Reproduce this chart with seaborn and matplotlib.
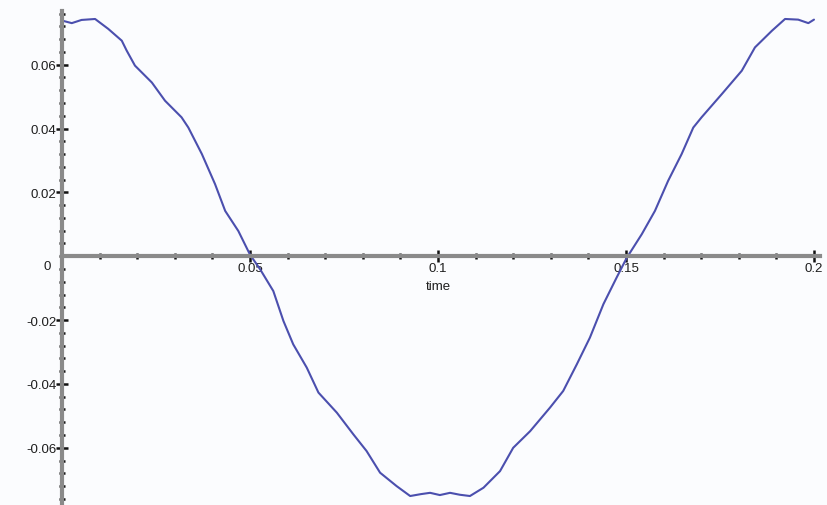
import matplotlib
matplotlib.use("Agg")
import matplotlib.pyplot as plt
import seaborn as sns
import pandas as pd
from matplotlib.ticker import MultipleLocator

# data
time_vals = [0.0, 0.0026, 0.0052, 0.0088, 0.0123, 0.0159, 0.0172, 0.0194, 0.0239, 0.0274,
             0.0318, 0.0336, 0.0372, 0.0407, 0.0434, 0.0469, 0.0500, 0.0527, 0.0562, 0.0589,
             0.0615, 0.0651, 0.0682, 0.0731, 0.0775, 0.0810, 0.0846, 0.0890, 0.0926, 0.0955,
             0.0979, 0.1005, 0.1032, 0.1058, 0.1085, 0.1121, 0.1165, 0.1200, 0.1245, 0.1298,
             0.1333, 0.1369, 0.1404, 0.1440, 0.1475, 0.1502, 0.1542, 0.1577, 0.1612, 0.1648,
             0.1679, 0.1701, 0.1755, 0.1808, 0.1843, 0.1888, 0.1923, 0.1958, 0.1985, 0.2000]
signal_vals = [0.0738, 0.0730, 0.0740, 0.0743, 0.0712, 0.0675, 0.0644, 0.0597, 0.0544, 0.0487,
               0.0435, 0.0403, 0.0320, 0.0226, 0.0142, 0.0079, 0.0005, -0.0041, -0.0109, -0.0203,
               -0.0276, -0.0349, -0.0427, -0.0490, -0.0558, -0.0610, -0.0678, -0.0720, -0.0751, -0.0745,
               -0.0741, -0.0748, -0.0741, -0.0747, -0.0751, -0.0725, -0.0673, -0.0600, -0.0548, -0.0474,
               -0.0422, -0.0339, -0.0255, -0.0150, -0.0067, -0.0005, 0.0069, 0.0142, 0.0236, 0.0320,
               0.0403, 0.0435, 0.0508, 0.0581, 0.0654, 0.0706, 0.0743, 0.0741, 0.0730, 0.0741]
x_ticks = [0.05, 0.1, 0.15, 0.2]
x_tick_labels = ["0.05", "0.1", "0.15", "0.2"]
y_ticks = [-0.06, -0.04, -0.02, 0.02, 0.04, 0.06]
y_tick_labels = ["-0.06", "-0.04", "-0.02", "0.02", "0.04", "0.06"]
x_label = "time"

sns.set_theme(style="white")
plt.rcParams["font.family"] = ["Liberation Sans", "DejaVu Sans"]

bg = "#fbfcfe"
txt = "#1e1e1e"
fig = plt.figure(figsize=(8.28, 5.06), dpi=100, facecolor=bg)
ax = fig.add_axes([62 / 828, 1 / 506, 758 / 828, 493 / 506])
ax.set_facecolor(bg)

df = pd.DataFrame({"time": time_vals, "signal": signal_vals})
sns.lineplot(data=df, x="time", y="signal", ax=ax, color="#4b4fae", linewidth=1.5,
             estimator=None, sort=False)

ax.set_xlim(0, 0.2016)
ax.set_ylim(-0.0776, 0.0768)

for s in ["top", "right"]:
    ax.spines[s].set_visible(False)
for s in ["left", "bottom"]:
    ax.spines[s].set_position(("data", 0))
    ax.spines[s].set_color("#8a8a8a")
    ax.spines[s].set_linewidth(3.0)

ax.set_xticks(x_ticks)
ax.set_xticklabels(x_tick_labels)
ax.set_yticks(y_ticks)
ax.set_yticklabels(y_tick_labels)
ax.xaxis.set_minor_locator(MultipleLocator(0.01))
ax.yaxis.set_minor_locator(MultipleLocator(0.004))
ax.tick_params(which="major", direction="inout", length=8, width=1.8, color="#111111",
               labelsize=9.5, labelcolor=txt)
ax.tick_params(which="minor", direction="inout", length=5, width=1.8, color="#111111")
ax.tick_params(axis="x", which="major", pad=0)
ax.tick_params(axis="y", which="major", pad=0)
ax.tick_params(axis="x", which="both", bottom=True)
ax.tick_params(axis="y", which="both", left=True)

ax.set_xlabel("")
ax.set_ylabel("")
ax.text(-0.0040, -0.0012, "0", ha="center", va="top", fontsize=9.5, color=txt)
ax.text(0.1, -0.0075, x_label, ha="center", va="top", fontsize=9.5, color=txt)

fig.savefig("out.png", dpi=100, facecolor=bg)
